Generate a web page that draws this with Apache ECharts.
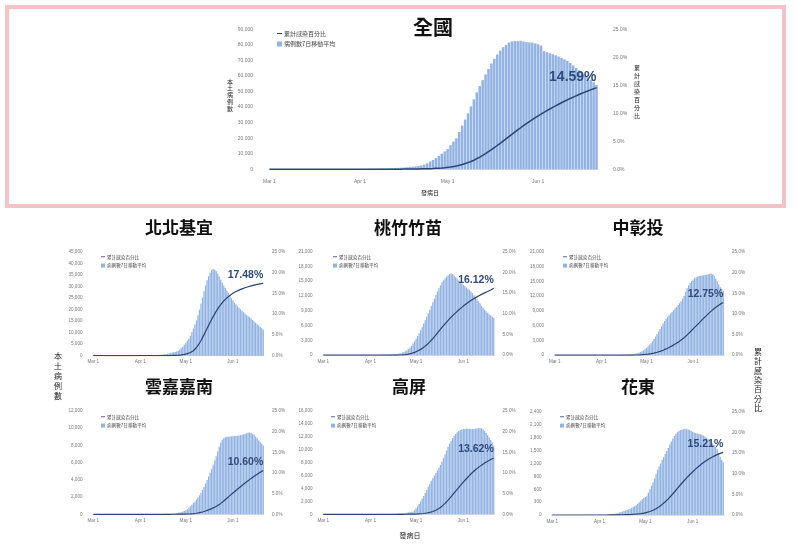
<!DOCTYPE html>
<html><head><meta charset="utf-8">
<script src="https://cdn.jsdelivr.net/npm/echarts@6/dist/echarts.min.js"></script>
<style>html,body{margin:0;padding:0;background:#fff}#c{width:798px;height:548px}</style>
</head><body><div id="c"></div>
<script>
// ---------- data ----------
const monthSpans = [['Mar', 31], ['Apr', 30], ['May', 31], ['Jun', 21]];
const dates = [];
monthSpans.forEach(([m, n]) => { for (let d = 1; d <= n; d++) dates.push(m + ' ' + d); });
const tickLabels = ['Mar 1', 'Apr 1', 'May 1', 'Jun 1'];
const regionNames = ['全國', '北北基宜', '桃竹竹苗', '中彰投', '雲嘉嘉南', '高屏', '花東'];
const caseAxisMax = [90000, 45000, 21000, 21000, 12000, 16000, 2400];
const caseAxisStep = [10000, 5000, 3000, 3000, 2000, 2000, 300];
const pctAxisMax = 25, pctAxisStep = 5;
const barName = '病例數7日移動平均';
const lineName = '累計感染百分比';

const natCases = [10,12,14,15,18,20,22,25,28,30,
 32,35,38,40,45,50,55,60,65,70,
 75,80,90,100,110,120,130,140,150,165,
 180,200,230,260,300,340,380,420,480,540,
 600,680,760,850,950,1050,1150,1300,1450,1650,
 1850,2100,2500,3000,3800,5000,6000,7200,8600,10000,
 11500,13000,15500,17800,20000,24000,28000,32000,36000,40500,
 45000,49500,53500,57300,61000,64500,68000,71000,73800,76300,
 78500,80000,81500,82200,82500,82400,82600,82200,81800,81600,
 81400,81000,80400,79500,76000,75200,74600,74000,73300,72500,
 71600,70600,69800,68400,66800,65100,63600,62200,60800,59200,
 57600,56000,54200];
const natPct = [0,0,0,0,0,0,0,0,0,0,
 0,0,0,0,0,0,0,0,0,0,
 0,0,0,0,0,0,0,0,0,0,
 0,0,0,0,0,0.01,0.01,0.01,0.01,0.01,
 0.02,0.02,0.02,0.03,0.03,0.03,0.04,0.04,0.05,0.05,
 0.06,0.07,0.08,0.09,0.10,0.12,0.14,0.17,0.20,0.24,
 0.29,0.35,0.42,0.50,0.60,0.72,0.86,1.02,1.20,1.40,
 1.62,1.90,2.18,2.48,2.80,3.14,3.50,3.87,4.25,4.64,
 5.04,5.44,5.84,6.24,6.64,7.03,7.42,7.80,8.17,8.53,
 8.88,9.22,9.55,9.87,10.18,10.48,10.77,11.06,11.34,11.62,
 11.89,12.15,12.40,12.65,12.89,13.12,13.35,13.57,13.78,13.99,
 14.19,14.39,14.59];

const northCases = [5,5,6,6,7,8,8,9,10,10,
 12,13,14,15,17,18,20,22,24,26,
 28,30,33,36,40,44,48,52,57,62,
 68,75,85,95,110,125,140,160,180,200,
 230,260,300,350,400,460,540,640,760,900,
 1050,1200,1350,1500,1650,1800,2100,2600,3200,3900,
 4700,5600,6500,7400,8700,10200,11800,13500,15300,17500,
 20000,22600,25200,28000,30500,32700,34500,36000,37100,37600,
 37300,36600,35600,34400,33000,31700,30500,29400,28300,27200,
 26000,25000,24000,23000,22200,21500,20800,20100,19500,18900,
 18300,17700,17200,16700,16100,15500,14900,14300,13700,13100,
 12500,11900,11300];
const northPct = [0,0,0,0,0,0,0,0,0,0,
 0,0,0,0,0,0,0,0,0,0,
 0,0,0,0,0,0,0,0,0,0,
 0,0,0,0,0,0,0,0,0,0,
 0,0,0,0,0.01,0.01,0.01,0.02,0.02,0.03,
 0.04,0.05,0.06,0.08,0.10,0.12,0.15,0.18,0.22,0.27,
 0.33,0.40,0.50,0.62,0.77,0.96,1.20,1.55,1.98,2.48,
 3.05,3.68,4.36,5.08,5.82,6.57,7.31,8.04,8.75,9.43,
 10.08,10.70,11.28,11.82,12.32,12.78,13.20,13.58,13.93,14.25,
 14.54,14.80,15.04,15.26,15.46,15.64,15.81,15.97,16.12,16.26,
 16.39,16.51,16.62,16.73,16.83,16.93,17.02,17.10,17.18,17.26,
 17.33,17.41,17.48];

const taoCases = [2,2,2,3,3,3,4,4,5,5,
 5,6,6,7,8,8,9,10,11,12,
 13,14,15,17,18,20,22,24,26,29,
 32,35,38,42,46,50,56,62,70,80,
 90,100,115,130,150,170,195,225,260,300,
 350,420,520,650,800,1000,1250,1550,1900,2350,
 2850,3350,3900,4450,5050,5700,6400,7100,7800,8500,
 9200,9950,10700,11450,12200,12900,13550,14150,14700,15150,
 15550,15900,16200,16450,16550,16400,16150,15850,15500,15150,
 14800,14500,14200,13950,13700,13450,13200,12900,12550,12150,
 11750,11350,10900,10450,10000,9600,9250,8900,8600,8300,
 8050,7800,7550];
const taoPct = [0,0,0,0,0,0,0,0,0,0,
 0,0,0,0,0,0,0,0,0,0,
 0,0,0,0,0,0,0,0,0,0,
 0,0,0,0,0,0,0,0,0,0,
 0,0,0,0,0.01,0.01,0.02,0.02,0.03,0.04,
 0.05,0.07,0.09,0.12,0.16,0.21,0.27,0.35,0.44,0.55,
 0.68,0.83,1.00,1.19,1.40,1.63,1.89,2.18,2.50,2.85,
 3.22,3.61,4.02,4.45,4.89,5.34,5.79,6.24,6.69,7.13,
 7.56,7.98,8.39,8.78,9.16,9.53,9.89,10.24,10.58,10.91,
 11.23,11.54,11.84,12.13,12.41,12.68,12.94,13.19,13.43,13.66,
 13.88,14.09,14.29,14.48,14.67,14.85,15.03,15.20,15.37,15.53,
 15.72,15.92,16.12];

const centralCases = [1,1,1,1,1,2,2,2,2,2,
 2,3,3,3,3,4,4,4,5,5,
 6,6,7,7,8,9,10,11,12,13,
 14,16,18,20,22,25,28,31,35,40,
 45,50,56,63,70,80,90,105,120,140,
 165,195,230,280,340,420,520,650,800,1000,
 1200,1450,1750,2100,2450,2850,3300,3800,4300,4800,
 5350,5900,6450,6950,7400,7800,8150,8500,8800,9150,
 9500,9850,10200,10600,11000,11500,12100,12900,13600,14200,
 14700,15100,15400,15650,15850,16000,16100,16150,16200,16250,
 16300,16350,16450,16550,16600,16450,16100,15600,15000,14400,
 13900,13500,13100];
const centralPct = [0,0,0,0,0,0,0,0,0,0,
 0,0,0,0,0,0,0,0,0,0,
 0,0,0,0,0,0,0,0,0,0,
 0,0,0,0,0,0,0,0,0,0,
 0,0,0,0,0,0.01,0.01,0.01,0.02,0.02,
 0.02,0.03,0.03,0.04,0.05,0.06,0.08,0.10,0.12,0.15,
 0.18,0.22,0.26,0.31,0.37,0.44,0.52,0.61,0.71,0.82,
 0.94,1.07,1.21,1.36,1.52,1.69,1.87,2.06,2.26,2.47,
 2.69,2.92,3.16,3.41,3.67,3.95,4.25,4.57,4.91,5.26,
 5.62,5.99,6.36,6.73,7.10,7.47,7.85,8.23,8.61,8.95,
 9.30,9.66,10.01,10.35,10.68,11.00,11.30,11.59,11.86,12.12,
 12.37,12.57,12.75];

const southCases = [0,0,0,0,0,1,1,1,1,1,
 1,1,1,1,2,2,2,2,2,2,
 3,3,3,3,4,4,4,5,5,5,
 6,6,7,8,9,10,11,12,14,16,
 18,20,23,26,30,34,39,45,52,60,
 70,82,96,112,130,150,175,205,240,285,
 380,480,600,760,930,1100,1300,1500,1720,1950,
 2200,2500,2820,3180,3570,3970,4390,4820,5270,5750,
 6250,6750,7300,7850,8350,8650,8850,8950,9000,9020,
 9040,9050,9070,9090,9110,9130,9160,9190,9230,9280,
 9340,9420,9480,9500,9450,9350,9200,9020,8820,8610,
 8400,8200,8000];
const southPct = [0,0,0,0,0,0,0,0,0,0,
 0,0,0,0,0,0,0,0,0,0,
 0,0,0,0,0,0,0,0,0,0,
 0,0,0,0,0,0,0,0,0,0,
 0,0,0,0,0,0,0,0,0,0,
 0,0,0.01,0.01,0.01,0.02,0.02,0.03,0.03,0.04,
 0.05,0.06,0.07,0.09,0.11,0.14,0.17,0.21,0.26,0.32,
 0.39,0.47,0.56,0.67,0.79,0.93,1.07,1.22,1.38,1.55,
 1.72,1.92,2.14,2.38,2.64,2.92,3.22,3.54,3.87,4.20,
 4.53,4.85,5.16,5.47,5.78,6.08,6.38,6.68,6.98,7.27,
 7.56,7.85,8.13,8.41,8.69,8.96,9.22,9.47,9.71,9.94,
 10.16,10.38,10.60];

const kpCases = [1,1,1,1,1,1,2,2,2,2,
 2,2,3,3,3,3,4,4,4,5,
 5,6,6,7,7,8,9,10,11,12,
 13,14,16,18,20,22,25,28,32,36,
 40,45,50,56,63,70,80,90,100,115,
 130,150,170,190,215,240,280,330,380,450,
 650,930,1250,1600,1980,2400,2850,3300,3800,4250,
 4700,5150,5600,6000,6400,6800,7200,7650,8150,8700,
 9300,9900,10450,10950,11400,11800,12150,12450,12700,12900,
 13050,13150,13200,13220,13240,13250,13230,13210,13200,13220,
 13260,13300,13350,13380,13300,13150,12900,12600,12250,11900,
 11500,11100,10650];
const kpPct = [0,0,0,0,0,0,0,0,0,0,
 0,0,0,0,0,0,0,0,0,0,
 0,0,0,0,0,0,0,0,0,0,
 0,0,0,0,0,0,0,0,0,0,
 0,0,0,0,0,0,0,0,0,0,
 0,0,0,0.01,0.01,0.01,0.02,0.02,0.03,0.04,
 0.05,0.06,0.08,0.10,0.13,0.16,0.20,0.25,0.31,0.38,
 0.46,0.56,0.68,0.82,0.99,1.19,1.42,1.68,1.97,2.29,
 2.64,3.02,3.42,3.84,4.27,4.71,5.16,5.61,6.06,6.51,
 6.95,7.38,7.80,8.21,8.61,9.00,9.38,9.75,10.11,10.45,
 10.77,11.07,11.36,11.64,11.90,12.15,12.39,12.62,12.84,13.05,
 13.25,13.44,13.62];

const eastCases = [0,0,0,0,0,0,0,0,0,0,
 0,0,0,0,0,1,1,1,1,1,
 1,1,2,2,2,2,3,3,3,4,
 4,5,5,6,7,8,10,12,15,19,
 23,28,35,45,60,72,82,92,105,118,
 130,145,165,185,205,230,260,295,330,365,
 395,420,450,520,600,680,760,850,950,1050,
 1130,1200,1280,1350,1420,1490,1560,1640,1710,1780,
 1840,1890,1930,1960,1980,1990,2000,2010,2000,1990,
 1980,1960,1940,1920,1910,1900,1890,1880,1870,1850,
 1830,1800,1770,1740,1710,1670,1630,1590,1530,1450,
 1360,1280,1230];
const eastPct = [0,0,0,0,0,0,0,0,0,0,
 0,0,0,0,0,0,0,0,0,0,
 0,0,0,0,0,0,0,0,0,0,
 0,0,0,0,0,0,0,0,0.01,0.01,
 0.01,0.02,0.02,0.03,0.04,0.05,0.06,0.07,0.08,0.09,
 0.10,0.12,0.14,0.16,0.19,0.22,0.26,0.30,0.35,0.41,
 0.47,0.55,0.64,0.74,0.86,1.00,1.15,1.33,1.53,1.76,
 2.01,2.28,2.57,2.88,3.21,3.56,3.93,4.32,4.73,5.15,
 5.58,6.02,6.46,6.90,7.34,7.77,8.19,8.60,9.00,9.39,
 9.77,10.14,10.50,10.85,11.19,11.52,11.83,12.13,12.42,12.70,
 12.97,13.23,13.47,13.70,13.91,14.11,14.30,14.48,14.65,14.81,
 14.96,15.09,15.21];

const caseSeries = [natCases, northCases, taoCases, centralCases, southCases, kpCases, eastCases];
const pctSeries = [natPct, northPct, taoPct, centralPct, southPct, kpPct, eastPct];

// ---------- layout ----------
const grids = [
  {left: 268, top: 29.3, width: 330, height: 140},
  {left: 92.5, top: 252, width: 171.5, height: 103.7},
  {left: 322.5, top: 251.5, width: 172, height: 103.7},
  {left: 554, top: 252, width: 170, height: 103.2},
  {left: 92.5, top: 411, width: 171.5, height: 103.3},
  {left: 322.5, top: 411, width: 172, height: 103.3},
  {left: 551.5, top: 412, width: 172.5, height: 103}
];
const titlePos = [[433, 17], [179, 219], [408, 219], [638, 219], [179, 378], [409, 378], [638, 378]];
const legendPos = [[277, 30.5], [101, 254.5], [333, 254.5], [563, 254.5], [101, 414.5], [331, 414.5], [560, 414.5]];

const CJK = '"Noto Sans CJK TC", "Noto Sans CJK SC", sans-serif';
const LAT = '"Liberation Sans", Arial, sans-serif';
const barColor = '#93b3e3';
const lineColor = '#2c4474';
const labelColor = '#2f4a7c';

const option = {
  animation: false,
  backgroundColor: '#fff',
  title: [], legend: [], grid: [], xAxis: [], yAxis: [], series: [],
  graphic: []
};

regionNames.forEach((name, i) => {
  const big = i === 0;
  option.grid.push(Object.assign({containLabel: false}, grids[i]));
  option.title.push({
    text: name, left: titlePos[i][0], top: titlePos[i][1], textAlign: 'center', padding: 0,
    textStyle: {fontFamily: CJK, fontWeight: 'bold', fontSize: big ? 20 : 17, color: '#111'}
  });
  option.legend.push({
    left: legendPos[i][0], top: legendPos[i][1], orient: 'vertical', padding: 0,
    itemWidth: big ? 5 : 4, itemHeight: big ? 5 : 4, itemGap: big ? 4.5 : 4.2,
    selectedMode: false,
    textStyle: {fontFamily: CJK, fontSize: big ? 6 : 4.6, color: '#444', padding: [0, 0, 0, -3]},
    data: [
      {name: lineName, icon: 'path://M0,40H100V60H0Z', itemStyle: {color: lineColor}},
      {name: barName, icon: 'rect', itemStyle: {color: barColor}}
    ]
  });
  option.xAxis.push({
    type: 'category', gridIndex: i, data: dates, boundaryGap: true,
    axisTick: {show: false},
    axisLine: {show: true, lineStyle: {color: '#d6d6d6', width: 0.8}},
    axisLabel: {
      interval: (idx, val) => tickLabels.indexOf(val) >= 0,
      fontFamily: LAT, fontSize: big ? 5 : 4.6, color: '#777', margin: big ? 10 : 4
    }
  });
  option.yAxis.push({
    type: 'value', gridIndex: i, min: 0, max: caseAxisMax[i], interval: caseAxisStep[i],
    splitLine: {show: false}, axisLine: {show: false}, axisTick: {show: false},
    axisLabel: {fontFamily: LAT, fontSize: big ? 5 : 4.6, color: '#777', margin: big ? 15 : 10,
      formatter: v => v.toLocaleString('en-US')}
  });
  option.yAxis.push({
    type: 'value', gridIndex: i, position: 'right', min: 0, max: pctAxisMax, interval: pctAxisStep,
    splitLine: {show: false}, axisLine: {show: false}, axisTick: {show: false},
    axisLabel: {fontFamily: LAT, fontSize: big ? 5 : 4.6, color: '#777', margin: big ? 15 : 8,
      formatter: v => v.toFixed(1) + '%'}
  });
  option.series.push({
    type: 'bar', name: barName, xAxisIndex: i, yAxisIndex: 2 * i,
    data: caseSeries[i], barCategoryGap: '14%',
    itemStyle: {color: barColor}, silent: true
  });
  const pct = pctSeries[i];
  option.series.push({
    type: 'line', name: lineName, xAxisIndex: i, yAxisIndex: 2 * i + 1,
    data: pct.map((v, k) => k === pct.length - 1 ? {
      value: v,
      label: {show: true, position: 'top', align: 'right', distance: 3,
        formatter: p => p.value.toFixed(2) + '%',
        fontFamily: LAT, fontWeight: 'bold', fontSize: big ? 14 : 10.5, color: labelColor}
    } : v),
    symbol: 'circle', symbolSize: 0.1, showSymbol: true, showAllSymbol: true,
    lineStyle: {color: lineColor, width: big ? 1.5 : 1.2},
    itemStyle: {color: lineColor}, smooth: false, silent: true, z: 3
  });
});

function vtext(str, x, y, size, lh) {
  return {type: 'text', x: x, y: y, silent: true,
    style: {text: str.split('').join('\n'), fontFamily: CJK, fontSize: size, lineHeight: lh,
      fill: '#222', align: 'center', verticalAlign: 'middle'}};
}
option.graphic = [
  {type: 'rect', shape: {x: 7, y: 7, width: 777, height: 199}, silent: true,
   style: {fill: 'none', stroke: '#f4c3c5', lineWidth: 4}},
  vtext('本土病例數', 230, 95, 6, 6.8),
  vtext(lineName, 637, 92, 6, 8),
  {type: 'text', x: 430, y: 193, silent: true,
   style: {text: '發病日', fontFamily: CJK, fontSize: 6, fill: '#222', align: 'center', verticalAlign: 'middle'}},
  vtext('本土病例數', 58, 376, 8, 10),
  vtext(lineName, 758, 380, 8, 9.4),
  {type: 'text', x: 410, y: 535, silent: true,
   style: {text: '發病日', fontFamily: CJK, fontSize: 7, fill: '#222', align: 'center', verticalAlign: 'middle'}}
];

const chart = echarts.init(document.getElementById('c'), null, {renderer: 'canvas'});
chart.setOption(option);
</script>
</body></html>
